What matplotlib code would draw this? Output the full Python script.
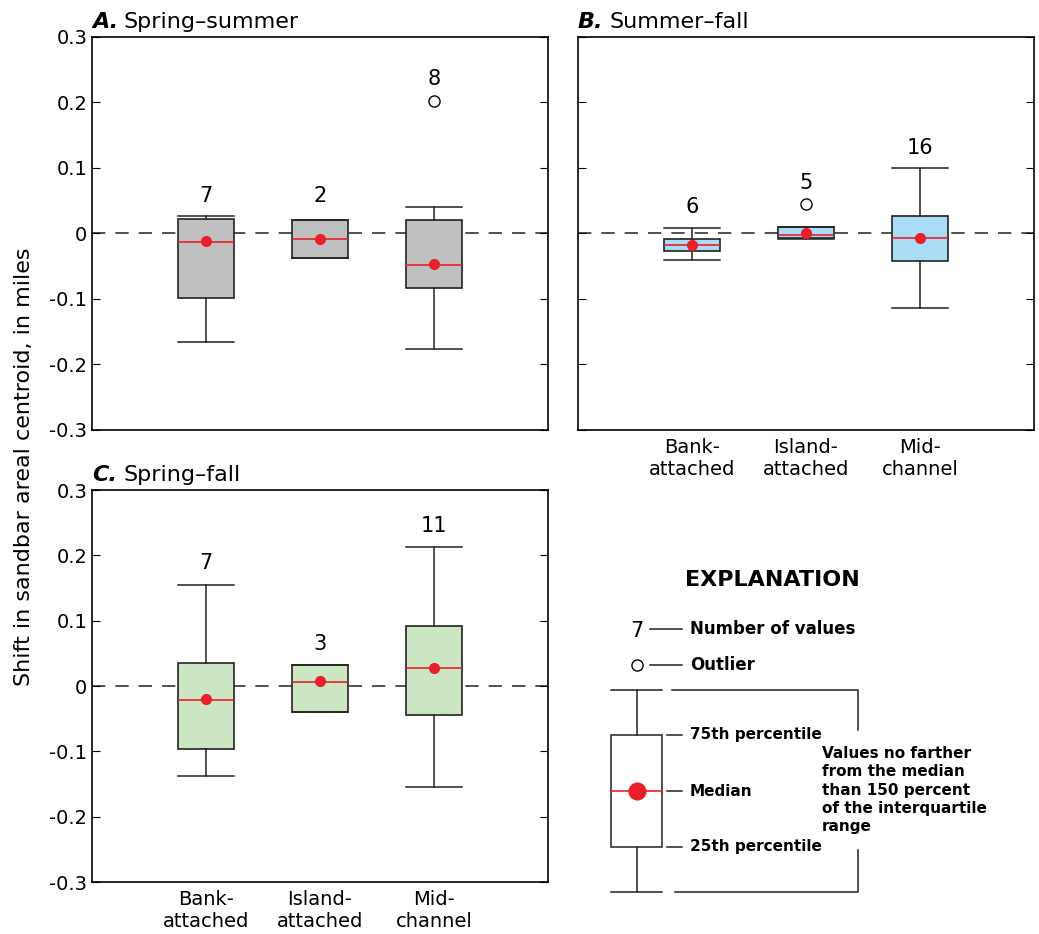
import matplotlib.pyplot as plt
import numpy as np

plt.rcParams['font.family'] = ['Liberation Sans Narrow', 'DejaVu Sans']

categories = ['Bank-\nattached', 'Island-\nattached', 'Mid-\nchannel']

# per panel: q1, q3, median, mean, whislo, whishi, outliers, count, count label y
a_q1 = [-0.098, -0.038, -0.083]
a_q3 = [0.022, 0.021, 0.021]
a_med = [-0.013, -0.009, -0.048]
a_mean = [-0.011, -0.008, -0.047]
a_lo = [-0.165, -0.038, -0.177]
a_hi = [0.026, 0.021, 0.041]
a_fliers = [[], [], [0.203]]
a_n = [7, 2, 8]
a_ny = [0.058, 0.058, 0.236]

b_q1 = [-0.027, -0.007, -0.042]
b_q3 = [-0.008, 0.01, 0.027]
b_med = [-0.017, -0.002, -0.007]
b_mean = [-0.018, 0.0, -0.007]
b_lo = [-0.04, -0.008, -0.113]
b_hi = [0.008, 0.01, 0.1]
b_fliers = [[], [0.045], []]
b_n = [6, 5, 16]
b_ny = [0.04, 0.077, 0.13]

c_q1 = [-0.096, -0.04, -0.044]
c_q3 = [0.035, 0.032, 0.092]
c_med = [-0.022, 0.006, 0.027]
c_mean = [-0.02, 0.008, 0.028]
c_lo = [-0.138, -0.04, -0.155]
c_hi = [0.155, 0.032, 0.212]
c_fliers = [[], [], []]
c_n = [7, 3, 11]
c_ny = [0.188, 0.065, 0.245]

RED = '#e8202a'
W, H = 1039, 934
fig = plt.figure(figsize=(W/100, H/100), dpi=100)

def panel(rect, q1, q3, med, mean, lo, hi, fliers, n, ny, color, title, xlabels):
    ax = fig.add_axes(rect)
    stats = []
    for i in range(3):
        stats.append(dict(q1=q1[i], q3=q3[i], med=med[i], mean=mean[i],
                          whislo=lo[i], whishi=hi[i], fliers=fliers[i]))
    ax.axhline(0, color='#333333', lw=1.2, dashes=(8, 6), zorder=1)
    ax.bxp(stats, positions=[1, 2, 3], widths=0.49, patch_artist=True,
           showmeans=True, meanline=False,
           boxprops=dict(facecolor=color, edgecolor='#222222', lw=1.2),
           medianprops=dict(color=RED, lw=1.2),
           meanprops=dict(marker='o', markerfacecolor=RED, markeredgecolor=RED, markersize=7),
           whiskerprops=dict(color='#222222', lw=1.1),
           capprops=dict(color='#222222', lw=1.1), capwidths=0.49,
           flierprops=dict(marker='o', markerfacecolor='white', markeredgecolor='black', markersize=8),
           zorder=2)
    for i in range(3):
        ax.text(i + 1, ny[i], str(n[i]), ha='center', va='center', fontsize=15)
    ax.set_xlim(0, 4)
    ax.set_ylim(-0.3, 0.3)
    ax.set_yticks([-0.3, -0.2, -0.1, 0, 0.1, 0.2, 0.3])
    ax.set_yticklabels(['-0.3', '-0.2', '-0.1', '0', '0.1', '0.2', '0.3'])
    ax.set_xticks([1, 2, 3])
    ax.set_xticklabels(xlabels)
    ax.tick_params(direction='in', right=True, length=6, labelsize=14)
    ax.tick_params(axis='x', length=0, pad=6)
    for s in ax.spines.values():
        s.set_linewidth(1.2)
    letter, name = title
    ax.text(0.0, 1.012, letter, transform=ax.transAxes, fontsize=16,
            fontweight='bold', style='italic', va='bottom')
    ax.text(0.07, 1.012, name, transform=ax.transAxes, fontsize=16, va='bottom')
    return ax

axA = panel([92/W, 1-430/H, 456/W, 393/H], a_q1, a_q3, a_med, a_mean, a_lo, a_hi,
            a_fliers, a_n, a_ny, '#c0c0c0', ('A.', 'Spring\u2013summer'), ['', '', ''])
axB = panel([578/W, 1-430/H, 456/W, 393/H], b_q1, b_q3, b_med, b_mean, b_lo, b_hi,
            b_fliers, b_n, b_ny, '#aadcf5', ('B.', 'Summer\u2013fall'), categories)
axB.set_yticklabels([])
axC = panel([92/W, 1-882/H, 456/W, 392/H], c_q1, c_q3, c_med, c_mean, c_lo, c_hi,
            c_fliers, c_n, c_ny, '#cce6c4', ('C.', 'Spring\u2013fall'), categories)
fig.text(24/W, 0.5, 'Shift in sandbar areal centroid, in miles', rotation=90,
         ha='center', va='center', fontsize=16)

# explanation
lg = fig.add_axes([0, 0, 1, 1])
lg.set_xlim(0, W)
lg.set_ylim(H, 0)
lg.axis('off')
k = dict(color='#222222', lw=1.1)
lg.text(772, 580, 'EXPLANATION', ha='center', va='center', fontsize=16, fontweight='bold')
lg.text(637, 631, '7', ha='center', va='center', fontsize=15)
lg.plot([650, 682], [629, 629], **k)
lg.text(690, 629, 'Number of values', va='center', fontsize=12, fontweight='bold')
lg.plot([637], [665], marker='o', mfc='white', mec='black', ms=8)
lg.plot([650, 682], [665, 665], **k)
lg.text(690, 665, 'Outlier', va='center', fontsize=12, fontweight='bold')
lg.add_patch(plt.Rectangle((611, 735), 51, 112, fc='white', ec='#222222', lw=1.1))
lg.plot([637, 637], [690, 735], **k)
lg.plot([637, 637], [847, 892], **k)
lg.plot([611, 662], [690, 690], **k)
lg.plot([611, 662], [892, 892], **k)
lg.plot([611, 662], [791, 791], color=RED, lw=1.2)
lg.plot([637], [791], marker='o', color=RED, ms=12)
for yy, t in [(735, '75th percentile'), (791, 'Median'), (847, '25th percentile')]:
    lg.plot([667, 682], [yy, yy], **k)
    lg.text(690, yy, t, va='center', fontsize=11, fontweight='bold')
lg.plot([672, 858, 858], [690, 690, 730], **k)
lg.plot([675, 858, 858], [892, 892, 850], **k)
lg.text(822, 790, 'Values no farther\nfrom the median\nthan 150 percent\nof the interquartile\nrange',
        va='center', fontsize=11, fontweight='bold', linespacing=1.25)

fig.savefig('out.png', dpi=100)
